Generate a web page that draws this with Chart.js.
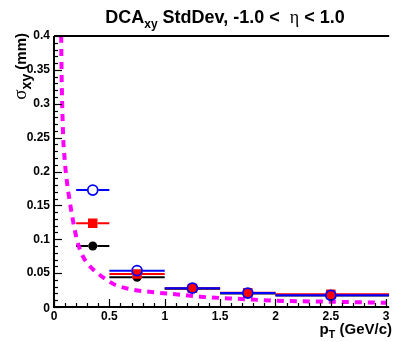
<!DOCTYPE html>
<html><head><meta charset="utf-8">
<script src="https://cdn.jsdelivr.net/npm/chart.js@4/dist/chart.umd.min.js"></script>
<style>html,body{margin:0;padding:0;background:#fff}#wrap{width:393px;height:342px;position:relative}</style>
</head><body><div id="wrap"><canvas id="c" width="393" height="342"></canvas></div>
<script>
// ---- data ----
const binCenters = [0.35, 0.75, 1.25, 1.75, 2.5];
const binLow     = [0.2, 0.5, 1.0, 1.5, 2.0];
const binHigh    = [0.5, 1.0, 1.5, 2.0, 3.0];
const blueValues  = [0.1726, 0.0536, 0.0278, 0.0205, 0.0173];
const redValues   = [0.1235, 0.0487, 0.0275, 0.0210, 0.0187];
const blackValues = [0.0900, 0.0438, 0.0270, 0.0200, 0.0170];
const curveX = [0.065, 0.068, 0.074, 0.083, 0.097, 0.106, 0.148, 0.206, 0.26, 0.35, 0.45, 0.555, 0.7, 0.9, 1.17, 1.32, 1.7, 2.0, 2.5, 3.0];
const curveY = [0.40, 0.35, 0.30, 0.25, 0.217, 0.20, 0.15, 0.10, 0.075, 0.056, 0.043, 0.0325, 0.026, 0.0217, 0.0177, 0.0152, 0.0118, 0.0093, 0.0078, 0.0063];
const xTicks = [0, 0.5, 1, 1.5, 2, 2.5, 3];
const yTicks = [0, 0.05, 0.1, 0.15, 0.2, 0.25, 0.3, 0.35, 0.4];
const xTickLabels = ['0', '0.5', '1', '1.5', '2', '2.5', '3'];
const yTickLabels = ['0', '0.05', '0.1', '0.15', '0.2', '0.25', '0.3', '0.35', '0.4'];

const FONT = "'Liberation Sans', Arial, Helvetica, sans-serif";
const SERIF = "'Liberation Serif', 'DejaVu Serif', serif";

function pts(xs, ys){ return xs.map((x,i)=>({x:x, y:ys[i]})); }

function drawRich(ctx, segs, x, y, align){
  let total = 0;
  segs.forEach(s=>{ ctx.font = s.f; s.w = ctx.measureText(s.t).width; total += s.w; });
  let cx = align === 'center' ? x - total/2 : (align === 'right' ? x - total : x);
  ctx.textAlign = 'left'; ctx.textBaseline = 'alphabetic';
  segs.forEach(s=>{ ctx.font = s.f; ctx.fillText(s.t, cx, y + (s.dy||0)); cx += s.w; });
}

const errorBars = {
  id: 'errorBars',
  beforeDatasetsDraw(chart){
    const ctx = chart.ctx, xs = chart.scales.x, ys = chart.scales.y, a = chart.chartArea;
    ctx.save();
    ctx.beginPath(); ctx.rect(a.left, a.top, a.right-a.left+3, a.bottom-a.top); ctx.clip();
    const series = [[blackValues,'#000000',4.5],[redValues,'#ff0000',4.8],[blueValues,'#0000ff',5.5]];
    series.forEach(([vals,col,gap])=>{
      ctx.strokeStyle = col; ctx.lineWidth = 2;
      vals.forEach((v,i)=>{
        const y = ys.getPixelForValue(v);
        const xc = xs.getPixelForValue(binCenters[i]);
        const xl = xs.getPixelForValue(binLow[i]);
        let xh = xs.getPixelForValue(binHigh[i]);
        if (binHigh[i] >= xs.max) xh += 3;
        ctx.beginPath();
        ctx.moveTo(xl, y); ctx.lineTo(xc-gap, y);
        ctx.moveTo(xc+gap, y); ctx.lineTo(xh, y);
        ctx.stroke();
      });
    });
    ctx.restore();
  }
};

const decorations = {
  id: 'decorations',
  afterDraw(chart){
    const ctx = chart.ctx, xs = chart.scales.x, ys = chart.scales.y, a = chart.chartArea;
    ctx.save();
    ctx.strokeStyle = '#000'; ctx.lineWidth = 1.2;
    // y ticks (inside)
    for (let i=0;i<=40;i++){
      const v = i/100, y = Math.round(ys.getPixelForValue(v))+0.5;
      const len = (i%5===0) ? 8 : 4;
      ctx.beginPath(); ctx.moveTo(a.left, y); ctx.lineTo(a.left+len, y); ctx.stroke();
    }
    // x ticks (inside)
    for (let i=0;i<=30;i++){
      const v = i/10, x = Math.round(xs.getPixelForValue(v))+0.5;
      const len = (i%5===0) ? 8 : 4;
      ctx.beginPath(); ctx.moveTo(x, a.bottom); ctx.lineTo(x, a.bottom-len); ctx.stroke();
    }
    // frame (left, bottom, top)
    ctx.lineWidth = 2;
    ctx.beginPath();
    ctx.moveTo(a.left, a.top); ctx.lineTo(a.left, a.bottom); ctx.lineTo(a.right+3, a.bottom);
    ctx.moveTo(a.left, a.top); ctx.lineTo(a.right+3, a.top);
    ctx.stroke();
    ctx.fillStyle = '#000';
    // tick labels
    ctx.font = 'bold 12px '+FONT;
    ctx.textBaseline = 'middle'; ctx.textAlign = 'right';
    yTicks.forEach((v,i)=>{ ctx.fillText(yTickLabels[i], a.left-4, ys.getPixelForValue(v) + (v===0?2:0)); });
    ctx.textBaseline = 'top'; ctx.textAlign = 'center';
    xTicks.forEach((v,i)=>{ ctx.fillText(xTickLabels[i], xs.getPixelForValue(v), a.bottom+4); });
    // title
    drawRich(ctx, [
      {t:'DCA', f:'bold 18px '+FONT},
      {t:'xy', f:'bold 12px '+FONT, dy:5},
      {t:' StdDev, -1.0 <  ', f:'bold 18px '+FONT},
      {t:'\u03B7', f:'18px '+SERIF},
      {t:' < 1.0', f:'bold 18px '+FONT}
    ], 225, 23, 'center');
    // x title
    drawRich(ctx, [
      {t:'p', f:'bold 15px '+FONT},
      {t:'T', f:'bold 11px '+FONT, dy:4},
      {t:' (GeV/c)', f:'bold 15px '+FONT}
    ], 392, 334, 'right');
    // y title (rotated)
    ctx.save();
    ctx.translate(26, 33);
    ctx.rotate(-Math.PI/2);
    drawRich(ctx, [
      {t:'\u03C3', f:'19px '+SERIF},
      {t:'xy', f:'bold 14px '+FONT, dy:5},
      {t:' (mm)', f:'bold 15px '+FONT}
    ], 0, 0, 'right');
    ctx.restore();
    ctx.restore();
  }
};

new Chart(document.getElementById('c'), {
  type: 'scatter',
  data: {
    datasets: [
      { label:'blue', data: pts(binCenters, blueValues), pointStyle:'circle', pointRadius:5, pointBorderWidth:1.8,
        pointBorderColor:'#0000ff', pointBackgroundColor:'rgba(0,0,0,0)', showLine:false },
      { label:'red', data: pts(binCenters, redValues), pointStyle:'rect', pointRadius:6.7, pointBorderWidth:0,
        pointBorderColor:'#ff0000', pointBackgroundColor:'#ff0000', showLine:false },
      { label:'black', data: pts(binCenters, blackValues), pointStyle:'circle', pointRadius:4.5, pointBorderWidth:0,
        pointBorderColor:'#000', pointBackgroundColor:'#000', showLine:false },
      { label:'fit', type:'line', data: pts(curveX, curveY), pointRadius:0, borderColor:'#ff00ff', borderWidth:4,
        borderDash:[7,6], cubicInterpolationMode:'monotone', fill:false, showLine:true }
    ]
  },
  options: {
    responsive:false, animation:false, devicePixelRatio:1, events:[],
    layout:{ padding:{ top:36, right:2, left:54, bottom:35 } },
    plugins:{ legend:{display:false}, tooltip:{enabled:false}, title:{display:false} },
    scales:{
      x:{ type:'linear', min:0, max:3, display:false },
      y:{ type:'linear', min:0, max:0.4, display:false }
    }
  },
  plugins:[errorBars, decorations]
});
</script>
</body></html>
